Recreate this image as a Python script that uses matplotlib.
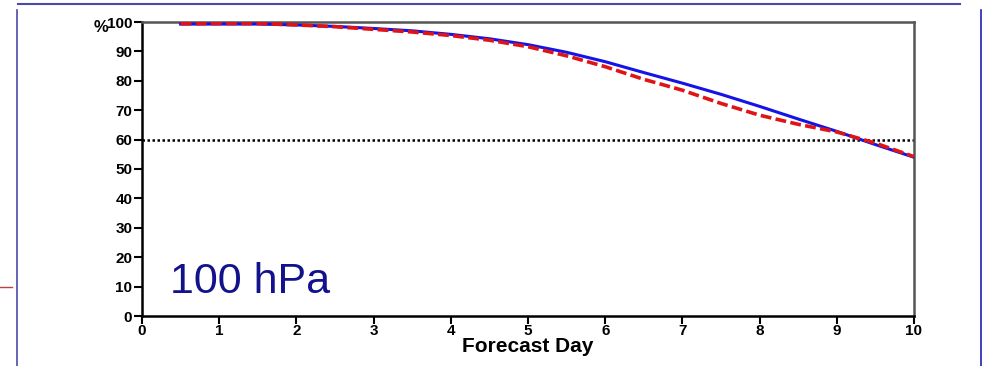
import matplotlib
matplotlib.use("Agg")
import matplotlib.pyplot as plt
from matplotlib.lines import Line2D

# Forecast day and anomaly-correlation scores (%)
days = [0.5, 1, 1.5, 2, 2.5, 3, 3.5, 4, 4.5, 5, 5.5, 6, 6.5, 7, 7.5, 8, 8.5, 9, 9.5, 10]
score_blue = [99.3, 99.3, 99.3, 99.0, 98.5, 97.8, 97.0, 95.8, 94.3, 92.3, 89.7, 86.5,
              82.8, 79.2, 75.4, 71.3, 67.0, 62.8, 58.3, 54.0]
score_red = [99.4, 99.5, 99.5, 99.0, 98.4, 97.5, 96.6, 95.4, 93.8, 91.6, 88.5, 84.8,
             80.5, 76.8, 72.3, 68.3, 65.2, 62.6, 58.8, 54.2]
threshold = 60
x_ticks = list(range(0, 11))
y_ticks = list(range(0, 101, 10))
level_label = "100 hPa"

W, H = 983, 366
fig = plt.figure(figsize=(W / 100, H / 100), dpi=100)
fig.patch.set_facecolor("white")

# slide frame lines
frame = "#4a4aa8"
fig.add_artist(Line2D([18 / W, 960 / W], [1 - 4 / H, 1 - 4 / H], color=frame, lw=1.5))
fig.add_artist(Line2D([17 / W, 17 / W], [0, 1 - 10 / H], color=frame, lw=1.2))
fig.add_artist(Line2D([981 / W, 981 / W], [0, 1 - 10 / H], color="#2020b0", lw=1.2))
fig.add_artist(Line2D([0, 12 / W], [1 - 287 / H, 1 - 287 / H], color="#c04040", lw=1.0))

ax = fig.add_axes([142 / W, 1 - 316 / H, (914 - 142) / W, (316 - 22) / H])
ax.set_xlim(0, 10)
ax.set_ylim(0, 100)

ax.axhline(threshold, color="black", lw=1.8, ls=(0, (1, 1)), zorder=2)
ax.plot(days, score_blue, color="#1414e6", lw=2.2, zorder=3)
ax.plot(days, score_red, color="#e01414", lw=2.6, ls=(0, (3, 1.2)), zorder=4)

ax.set_xticks(x_ticks)
ax.set_yticks(y_ticks)
tick_font = dict(family="Liberation Sans", weight="bold", size=11)
ax.set_xticklabels([str(t) for t in x_ticks], fontdict=tick_font)
ax.set_yticklabels([str(t) for t in y_ticks], fontdict=tick_font)
ax.tick_params(axis="both", direction="out", length=6, width=1.5, color="black")
ax.tick_params(axis="x", pad=0)
ax.tick_params(axis="y", pad=1)

for side in ("left", "bottom"):
    ax.spines[side].set_color("black")
    ax.spines[side].set_linewidth(1.8)
for side in ("top", "right"):
    ax.spines[side].set_color("#555555")
    ax.spines[side].set_linewidth(1.8)

ax.set_xlabel("Forecast Day", family="Liberation Sans", weight="bold", size=15, labelpad=-1)
fig.text(101 / W, 1 - 28 / H, "%", family="Liberation Sans", weight="bold", size=12,
         ha="center", va="center")

ax.text(170 / W, 1 - 293 / H, level_label, transform=fig.transFigure,
        family="Liberation Sans", size=31, color="#12128c", ha="left", va="baseline")

fig.savefig("out.png", dpi=100)
